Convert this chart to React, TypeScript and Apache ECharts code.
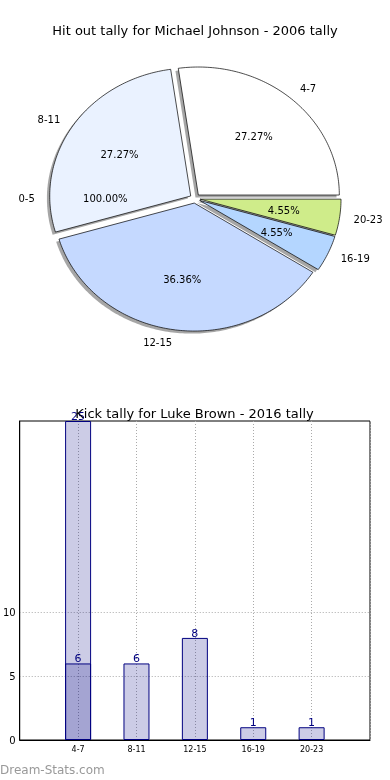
import React, { useEffect, useRef } from "react";
import * as echarts from "echarts";

// ---------- data ----------
const pieTitle = "Hit out tally for Michael Johnson - 2006 tally";
const pieCategories = ["4-7", "8-11", "0-5", "12-15", "16-19", "20-23"];
const pieValues = [6, 6, 0, 8, 1, 1];
const piePctLabels = ["27.27%", "27.27%", "100.00%", "36.36%", "4.55%", "4.55%"];
const pieColors = ["#ffffff", "#eaf2ff", "#ffffff", "#c5d9ff", "#b4d6ff", "#cfec8a"];

const barTitle = "Kick tally for Luke Brown - 2016 tally";
const barCategories = ["", "4-7", "8-11", "12-15", "16-19", "20-23", ""];
const barSeriesA = ["-", 25, "-", "-", "-", "-", "-"];
const barSeriesB = ["-", 6, 6, 8, 1, 1, "-"];
const yTickValues = [0, 5, 10];

const FONT = "DejaVu Sans";

export default function App() {
  const ref = useRef<HTMLDivElement>(null);
  useEffect(() => {
    if (!ref.current) return;
    const chart = echarts.init(ref.current, null, { renderer: "svg" });

    // pie geometry (matplotlib-like elliptical pie)
    const cx = 195, cy = 198.5, rx = 141, ry = 128;
    const explode = 0.036;
    const shadowDx = -0.02 * rx, shadowDy = 0.02 * ry;
    const total = pieValues.reduce((a, b) => a + b, 0);
    const starts: number[] = [];
    let acc = 0;
    pieValues.forEach((v) => {
      starts.push(acc);
      acc += (v / total) * 360;
    });

    const pt = (ox: number, oy: number, a: number, f: number) => {
      const r = (a * Math.PI) / 180;
      return [ox + f * rx * Math.cos(r), oy - f * ry * Math.sin(r)];
    };

    const renderPie = (params: any) => {
      const i = params.dataIndex;
      const v = pieValues[i];
      const t1 = starts[i];
      const t2 = t1 + (v / total) * 360;
      const mid = v === 0 ? 180 : (t1 + t2) / 2;
      const [ox, oy] = pt(cx, cy, mid, explode);
      const children: any[] = [];
      if (v > 0) {
        const pts: number[][] = [[ox, oy]];
        const steps = Math.max(2, Math.ceil(t2 - t1));
        for (let k = 0; k <= steps; k++) {
          const a = t1 + ((t2 - t1) * k) / steps;
          pts.push(pt(ox, oy, a, 1));
        }
        children.push({
          type: "polygon",
          z2: 0,
          shape: { points: pts.map((p) => [p[0] + shadowDx, p[1] + shadowDy]) },
          style: { fill: "rgba(77,77,77,0.5)", stroke: "none" },
        });
        children.push({
          type: "polygon",
          z2: 10,
          shape: { points: pts },
          style: { fill: pieColors[i], stroke: "#000", lineWidth: 0.7 },
        });
      }
      const [px, py] = pt(ox, oy, mid, 0.6);
      children.push({
        type: "text",
        z2: 20,
        style: {
          text: piePctLabels[i], x: px, y: py, align: "center", verticalAlign: "middle",
          fill: "#000", fontSize: 10, fontFamily: FONT,
        },
      });
      const [lx, ly] = pt(ox, oy, mid, 1.1);
      children.push({
        type: "text",
        z2: 20,
        style: {
          text: pieCategories[i], x: lx, y: ly,
          align: lx > ox ? "left" : "right", verticalAlign: "middle",
          fill: "#000", fontSize: 10, fontFamily: FONT,
        },
      });
      return { type: "group", children };
    };

    const barLabel = {
      show: true, position: "top", distance: -1, color: "#000080",
      fontSize: 11, fontFamily: FONT,
    };
    const barItem = { color: "rgba(0,0,128,0.2)", borderColor: "#000080", borderWidth: 1 };

    chart.setOption({
      animation: false,
      textStyle: { fontFamily: FONT },
      graphic: [
        { type: "text", style: { text: pieTitle, x: 195, y: 30, align: "center", verticalAlign: "middle", fontSize: 13, fontFamily: FONT, fill: "#000" } },
        { type: "text", z: 100, style: { text: barTitle, x: 194.5, y: 413, align: "center", verticalAlign: "middle", fontSize: 13, fontFamily: FONT, fill: "#000" } },
        { type: "text", style: { text: "Dream-Stats.com", x: 0, y: 770, align: "left", verticalAlign: "middle", fontSize: 12, fontFamily: FONT, fill: "#999" } },
      ],
      grid: { left: 19, top: 421, width: 351, height: 319, show: true, borderColor: "#000", borderWidth: 1 },
      xAxis: {
        type: "category", data: barCategories, boundaryGap: false,
        axisLine: { show: true, lineStyle: { color: "#000" } },
        axisTick: { show: false },
        axisLabel: { fontSize: 8, color: "#000", margin: 5, fontFamily: FONT, interval: 0 },
        splitLine: { show: true, lineStyle: { color: "#aaa", type: [1, 2], width: 1 } },
      },
      yAxis: {
        type: "value", min: 0, max: 25, interval: 5,
        axisLine: { show: true, lineStyle: { color: "#000" } },
        axisTick: { show: false, customValues: yTickValues },
        axisLabel: { customValues: yTickValues, fontSize: 10, color: "#000", margin: 4, fontFamily: FONT },
        splitLine: { show: true, lineStyle: { color: "#aaa", type: [1, 2], width: 1 } },
      },
      series: [
        {
          type: "custom", coordinateSystem: "none", renderItem: renderPie,
          data: pieValues.map((v, i) => [i, v]), silent: true,
        },
        { type: "bar", data: barSeriesA, barWidth: 26, barGap: "-100%", itemStyle: barItem, label: barLabel },
        { type: "bar", data: barSeriesB, barWidth: 26, barGap: "-100%", itemStyle: barItem, label: barLabel },
      ],
    });
    return () => chart.dispose();
  }, []);
  return <div ref={ref} style={{ position: "fixed", left: 0, top: 0, width: 390, height: 780 }} />;
}
